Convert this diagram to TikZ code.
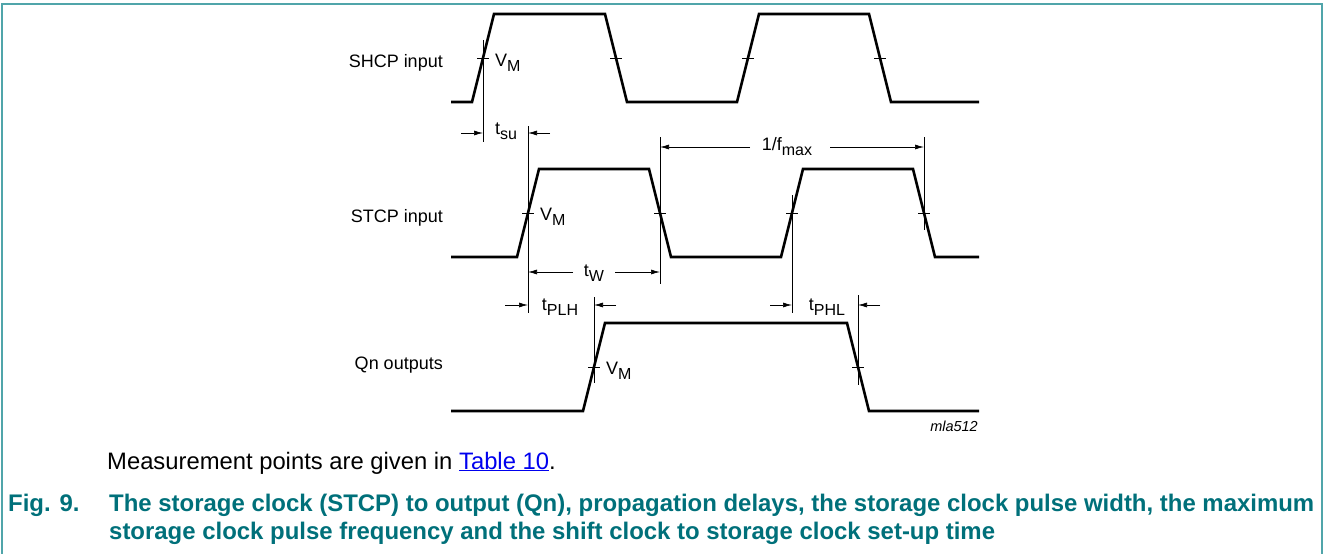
\documentclass[tikz,border=0pt]{standalone}
\usepackage{fontspec}
\setmainfont{Liberation Sans}
\usetikzlibrary{arrows.meta}
\definecolor{framecol}{RGB}{80,165,170}
\definecolor{capteal}{RGB}{0,112,122}
\definecolor{linkblue}{RGB}{0,0,238}
\newcommand{\sbs}[1]{\raisebox{-0.28em}{\fontsize{16}{16}\selectfont #1}}
\newlength\capw
\begin{document}
\settowidth\capw{\fontsize{24}{24}\selectfont\bfseries The storage clock (STCP) to output (Qn), propagation delays, the storage clock pulse width, the maximum}%
\pgfmathsetmacro\capscale{1205pt/\capw}%
\begin{tikzpicture}[x=1pt,y=-1pt,
  wave/.style={line width=2.6pt, line join=miter},
  thinl/.style={line width=0.7pt},
  dimarrow/.style={line width=0.7pt,-{Latex[length=9pt,width=5pt]}},
  lbl/.style={font=\fontsize{18}{18}\selectfont, inner sep=0pt},
  sig/.style={lbl, anchor=base east},
  vm/.style={lbl, anchor=base west},
  dimlbl/.style={lbl, anchor=base}]
\useasboundingbox (0,0) rectangle (1325,554);
% frame
\draw[framecol, line width=2pt] (2,554) -- (2,4) -- (1322,4) -- (1322,554);
% waveforms
\draw[wave] (451,102) -- (472,102) -- (494,14) -- (605,14) -- (627,102) -- (737,102) -- (759,14) -- (869,14) -- (891,102) -- (979,102);
\draw[wave] (451,257) -- (517,257) -- (539,169) -- (649,169) -- (671,257) -- (781,257) -- (803,169) -- (913,169) -- (935,257) -- (979,257);
\draw[wave] (451,411) -- (583,411) -- (605,323) -- (847,323) -- (869,411) -- (979,411);
% VM ticks
\foreach \x in {483,616,748,880} \draw[thinl] (\x-6,58) -- (\x+6,58);
\foreach \x in {528,660,792,924} \draw[thinl] (\x-6,213) -- (\x+6,213);
\foreach \x in {594,858} \draw[thinl] (\x-6,367) -- (\x+6,367);
% reference lines
\coordinate (a1) at (483,40);  \coordinate (a2) at (483,142);
\coordinate (b1) at (528,126); \coordinate (b2) at (528,313);
\coordinate (c1) at (660,137); \coordinate (c2) at (660,284);
\coordinate (d1) at (924,137); \coordinate (d2) at (924,230);
\coordinate (e1) at (792,195); \coordinate (e2) at (792,313);
\coordinate (f1) at (594,297); \coordinate (f2) at (594,383);
\coordinate (g1) at (858,295); \coordinate (g2) at (858,385);
\foreach \p in {a,b,c,d,e,f,g} \draw[thinl] (\p1) -- (\p2);
% signal names
\node[sig] (shcp) at (443,67) {SHCP input};
\node[sig] (stcp) at (443,222) {STCP input};
\node[sig] (qn) at (443,369) {Qn outputs};
% VM labels
\node[vm] (vm1) at (495,66) {V\sbs{M}};
\node[vm] (vm2) at (540,220) {V\sbs{M}};
\node[vm] (vm3) at (606,374) {V\sbs{M}};
% t_su
\coordinate (tsuL) at (461,133); \coordinate (tsuLe) at (483,133);
\coordinate (tsuR) at (550,133); \coordinate (tsuRe) at (528,133);
\draw[dimarrow] (tsuL) -- (tsuLe);
\draw[dimarrow] (tsuR) -- (tsuRe);
\node[lbl, anchor=base west] (tsu) at (495,134) {t\sbs{su}};
% t_W
\node[dimlbl] (tw) at (594,276) {t\sbs{W}};
\coordinate (twL) at (573,272); \coordinate (twLe) at (528,272);
\coordinate (twR) at (615,272); \coordinate (twRe) at (660,272);
\draw[dimarrow] (twL) -- (twLe);
\draw[dimarrow] (twR) -- (twRe);
% 1/fmax
\node[dimlbl] (fmax) at (787,150) {1/f\sbs{max}};
\coordinate (fL) at (750,147); \coordinate (fLe) at (660,147);
\coordinate (fR) at (830,147); \coordinate (fRe) at (924,147);
\draw[dimarrow] (fL) -- (fLe);
\draw[dimarrow] (fR) -- (fRe);
% tPLH
\coordinate (pL) at (505,305); \coordinate (pLe) at (528,305);
\coordinate (pR) at (616,305); \coordinate (pRe) at (594,305);
\draw[dimarrow] (pL) -- (pLe);
\draw[dimarrow] (pR) -- (pRe);
\node[dimlbl] (tplh) at (560,310) {t\sbs{PLH}};
% tPHL
\coordinate (hL) at (770,305); \coordinate (hLe) at (792,305);
\coordinate (hR) at (880,305); \coordinate (hRe) at (858,305);
\draw[dimarrow] (hL) -- (hLe);
\draw[dimarrow] (hR) -- (hRe);
\node[dimlbl] (tphl) at (827,310) {t\sbs{PHL}};
% figure code
\node[anchor=base east, inner sep=0pt, font=\fontsize{14.5}{14.5}\selectfont\itshape] (code) at (978,431) {mla512};
% notes and caption
\node[anchor=base west, inner sep=0pt, font=\fontsize{23.8}{24}\selectfont] (meas) at (107,469) {Measurement points are given in \textcolor{linkblue}{\underline{Table 10}}.};
\node[anchor=base west, inner sep=0pt, text=capteal, font=\fontsize{24}{24}\selectfont\bfseries] (fig) at (8,511) {\scalebox{\capscale}[1]{Fig. 9.}};
\node[anchor=base west, inner sep=0pt, text=capteal, font=\fontsize{24}{24}\selectfont\bfseries] (cap1) at (109,511) {\scalebox{\capscale}[1]{The storage clock (STCP) to output (Qn), propagation delays, the storage clock pulse width, the maximum}};
\node[anchor=base west, inner sep=0pt, text=capteal, font=\fontsize{24}{24}\selectfont\bfseries] (cap2) at (109,539) {\scalebox{\capscale}[1]{storage clock pulse frequency and the shift clock to storage clock set-up time}};
\end{tikzpicture}
\end{document}
